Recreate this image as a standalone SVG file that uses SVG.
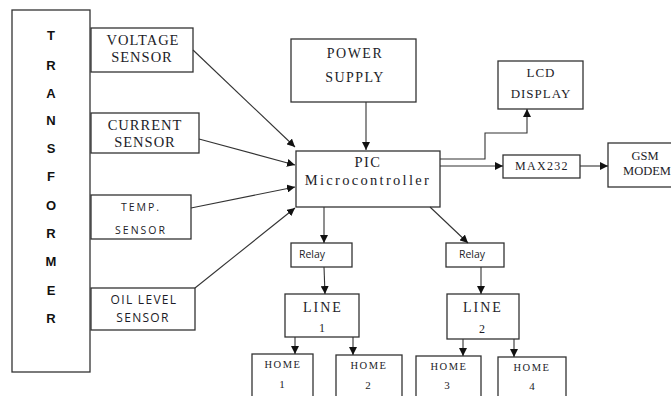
<svg xmlns="http://www.w3.org/2000/svg" width="671" height="396" viewBox="0 0 671 396">
<defs>
<style>
.box{fill:#fff;stroke:#333;stroke-width:1.3}
.s{font-family:"Liberation Serif","Times New Roman",serif;fill:#1c1c28;text-anchor:middle}
.ss{font-family:"Open Sans","Liberation Sans",sans-serif;fill:#1c1c28;text-anchor:middle}
.tl{font-family:"Liberation Sans",Arial,sans-serif;font-weight:bold;font-size:13px;fill:#111;text-anchor:middle}
.c{fill:none;stroke:#333;stroke-width:1.1}
</style>
<marker id="ah" viewBox="0 0 10 10" refX="10" refY="5" markerWidth="8" markerHeight="8" markerUnits="userSpaceOnUse" orient="auto">
<path d="M0,0 L10,5 L0,10 z" fill="#111"/>
</marker>
</defs>
<rect width="671" height="396" fill="#fff"/>

<g id="transformer">
<rect class="box" x="12" y="10" width="78" height="362"/>
<text class="tl" x="51" y="40">T</text>
<text class="tl" x="51" y="70">R</text>
<text class="tl" x="51" y="98">A</text>
<text class="tl" x="51" y="125">N</text>
<text class="tl" x="51" y="153">S</text>
<text class="tl" x="51" y="181">F</text>
<text class="tl" x="51" y="210">O</text>
<text class="tl" x="51" y="238">R</text>
<text class="tl" x="51" y="266">M</text>
<text class="tl" x="51" y="295">E</text>
<text class="tl" x="51" y="323">R</text>
</g>

<g id="voltage-sensor">
<rect class="box" x="91" y="28" width="102" height="44"/>
<text class="s" x="143" y="45" font-size="14.5" letter-spacing="1">VOLTAGE</text>
<text class="s" x="142" y="62" font-size="14.5" letter-spacing="1">SENSOR</text>
</g>

<g id="current-sensor">
<rect class="box" x="91" y="113" width="108" height="40"/>
<text class="s" x="145" y="130" font-size="14.5" letter-spacing="1">CURRENT</text>
<text class="s" x="145" y="147" font-size="14.5" letter-spacing="1">SENSOR</text>
</g>

<g id="temp-sensor">
<rect class="box" x="91" y="195" width="100" height="44"/>
<text class="ss" x="141" y="211" font-size="10.5" letter-spacing="2">TEMP.</text>
<text class="ss" x="141" y="234" font-size="10.5" letter-spacing="2">SENSOR</text>
</g>

<g id="oil-sensor">
<rect class="box" x="91" y="288" width="104" height="42"/>
<text class="ss" x="144" y="304" font-size="12" letter-spacing="1.3">OIL LEVEL</text>
<text class="ss" x="143" y="322" font-size="12" letter-spacing="1.3">SENSOR</text>
</g>

<g id="power-supply">
<rect class="box" x="291" y="39" width="125" height="63"/>
<text class="s" x="355" y="58" font-size="14" letter-spacing="1.5">POWER</text>
<text class="s" x="355" y="82" font-size="14" letter-spacing="1.5">SUPPLY</text>
</g>

<g id="pic">
<rect class="box" x="296" y="151" width="144" height="56"/>
<text class="s" x="368" y="167" font-size="14.5" letter-spacing="1.5">PIC</text>
<text class="s" x="368" y="185" font-size="14.5" letter-spacing="2.3">Microcontroller</text>
</g>

<g id="lcd">
<rect class="box" x="498" y="61" width="85" height="48"/>
<text class="s" x="541" y="77" font-size="13" letter-spacing="1">LCD</text>
<text class="s" x="541" y="98" font-size="13" letter-spacing="1">DISPLAY</text>
</g>

<g id="max232">
<rect class="box" x="503" y="155" width="77" height="23"/>
<text class="s" x="542" y="170" font-size="12" letter-spacing="1.3">MAX232</text>
</g>

<g id="gsm">
<rect class="box" x="608" y="143" width="66" height="44"/>
<text class="s" x="645" y="160" font-size="12.5">GSM</text>
<text class="s" x="647" y="175" font-size="12.5">MODEM</text>
</g>

<g id="relay1">
<rect class="box" x="291" y="243" width="61" height="24"/>
<text class="ss" x="312" y="258" font-size="10.5">Relay</text>
</g>

<g id="relay2">
<rect class="box" x="446" y="243" width="58" height="24"/>
<text class="ss" x="472" y="258" font-size="10.5">Relay</text>
</g>

<g id="line1">
<rect class="box" x="285" y="294" width="74" height="43"/>
<text class="s" x="323" y="312" font-size="14" letter-spacing="2">LINE</text>
<text class="s" x="322" y="332" font-size="12">1</text>
</g>

<g id="line2">
<rect class="box" x="447" y="294" width="72" height="45"/>
<text class="s" x="483" y="312" font-size="14" letter-spacing="2">LINE</text>
<text class="s" x="482" y="333" font-size="12">2</text>
</g>

<g id="home1">
<rect class="box" x="252" y="354" width="61" height="44"/>
<text class="s" x="283" y="368" font-size="10.5" letter-spacing="1.5">HOME</text>
<text class="s" x="282" y="388" font-size="11">1</text>
</g>

<g id="home2">
<rect class="box" x="336" y="355" width="66" height="43"/>
<text class="s" x="369" y="369" font-size="10.5" letter-spacing="1.5">HOME</text>
<text class="s" x="368" y="389" font-size="11">2</text>
</g>

<g id="home3">
<rect class="box" x="416" y="356" width="65" height="42"/>
<text class="s" x="449" y="370" font-size="10.5" letter-spacing="1.5">HOME</text>
<text class="s" x="447" y="389" font-size="11">3</text>
</g>

<g id="home4">
<rect class="box" x="498" y="357" width="68" height="42"/>
<text class="s" x="532" y="371" font-size="10.5" letter-spacing="1.5">HOME</text>
<text class="s" x="532" y="390" font-size="11">4</text>
</g>

<g id="connectors">
<line class="c" x1="193" y1="50" x2="295" y2="147" marker-end="url(#ah)"/>
<line class="c" x1="199" y1="139" x2="295" y2="165" marker-end="url(#ah)"/>
<line class="c" x1="191" y1="208" x2="295" y2="187" marker-end="url(#ah)"/>
<line class="c" x1="195" y1="288" x2="295" y2="208" marker-end="url(#ah)"/>
<line class="c" x1="366" y1="102" x2="366" y2="150" marker-end="url(#ah)"/>
<polyline class="c" points="440,159 485,159 485,133 527,133 527,109" marker-end="url(#ah)"/>
<line class="c" x1="440" y1="166" x2="503" y2="166" marker-end="url(#ah)"/>
<line class="c" x1="580" y1="166" x2="608" y2="166" marker-end="url(#ah)"/>
<line class="c" x1="324" y1="207" x2="324" y2="243" marker-end="url(#ah)"/>
<line class="c" x1="430" y1="207" x2="468" y2="243" marker-end="url(#ah)"/>
<line class="c" x1="324" y1="267" x2="325" y2="294" marker-end="url(#ah)"/>
<line class="c" x1="481" y1="267" x2="481" y2="294" marker-end="url(#ah)"/>
<line class="c" x1="295" y1="337" x2="295" y2="354" marker-end="url(#ah)"/>
<line class="c" x1="353" y1="337" x2="353" y2="355" marker-end="url(#ah)"/>
<line class="c" x1="463" y1="339" x2="463" y2="356" marker-end="url(#ah)"/>
<line class="c" x1="514" y1="339" x2="514" y2="357" marker-end="url(#ah)"/>
</g>
</svg>
